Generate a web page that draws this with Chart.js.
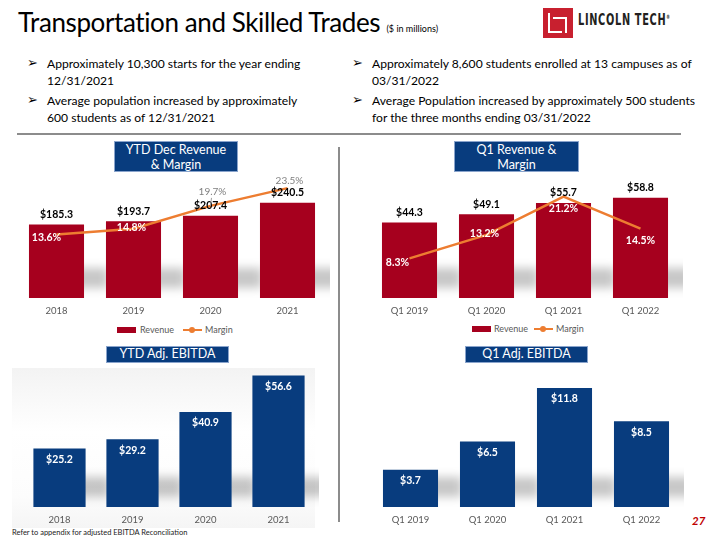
<!DOCTYPE html>
<html>
<head>
<meta charset="utf-8">
<script src="https://cdn.jsdelivr.net/npm/chart.js@4.4.1/dist/chart.umd.min.js"></script>
<style>
  html, body { margin: 0; padding: 0; background: #fff; }
  body { width: 720px; height: 540px; position: relative; overflow: hidden; font-family: Lato, "Open Sans", sans-serif; color: #000; }
  .abs { position: absolute; }
  .title { left: 18px; top: 6px; font-size: 26px; white-space: nowrap; letter-spacing: -0.4px; }
  .title small { font-size: 9px; letter-spacing: 0; }
  .bul { font-size: 12.1px; line-height: 17px; }
  .bul .ar { position: absolute; left: -20px; top: -1px; font-family: "DejaVu Sans"; font-size: 13px; }
  .rule { background: #8c8c8c; }
  .box { background: #083c7e; border: 1px solid #8aa4cc; color: #fff; text-align: center; font-size: 12.5px; line-height: 14.5px; box-sizing: border-box; }
  .leg { font-size: 9px; color: #595959; white-space: nowrap; }
  canvas { position: absolute; }
</style>
</head>
<body>

<div class="abs title">Transportation and Skilled Trades <small>($ in millions)</small></div>

<!-- logo -->
<div class="abs" style="left:543px;top:8px;width:30px;height:30px;background:#c8202f;"></div>
<div class="abs" style="left:548px;top:13px;width:2px;height:20px;background:#fff;"></div>
<div class="abs" style="left:548px;top:31px;width:14px;height:2px;background:#fff;"></div>
<div class="abs" style="left:553px;top:17px;width:14px;height:2px;background:#fff;"></div>
<div class="abs" style="left:565px;top:17px;width:2px;height:16px;background:#fff;"></div>
<div class="abs" style="left:578px;top:10px;font-family:'DejaVu Sans Condensed','DejaVu Sans';font-weight:bold;font-size:16px;color:#231f20;letter-spacing:1px;transform:scaleX(0.68);transform-origin:left top;white-space:nowrap;">LINCOLN TECH<sup style="font-size:6px;">®</sup></div>

<!-- bullets -->
<div class="abs bul" style="left:47px;top:55px;width:290px;"><span class="ar">➢</span>Approximately 10,300 starts for the year ending<br>12/31/2021</div>
<div class="abs bul" style="left:47px;top:92px;width:290px;"><span class="ar">➢</span>Average population increased by approximately<br>600 students as of 12/31/2021</div>
<div class="abs bul" style="left:372px;top:55px;width:340px;"><span class="ar">➢</span>Approximately 8,600 students enrolled at 13 campuses as of<br>03/31/2022</div>
<div class="abs bul" style="left:372px;top:92px;width:340px;"><span class="ar">➢</span>Average Population increased by approximately 500 students<br>for the three months ending 03/31/2022</div>

<div class="abs rule" style="left:17px;top:133px;width:664px;height:2px;"></div>
<div class="abs rule" style="left:338px;top:147px;width:2px;height:375px;"></div>

<!-- light backdrop behind the YTD EBITDA bars -->
<div class="abs" style="left:12px;top:368px;width:303px;height:160px;background:linear-gradient(180deg,#f3f3f3 0%,#ffffff 40%,#fcfcfc 80%,#f5f5f5 100%);"></div>

<!-- panel titles -->
<div class="abs box" style="left:114px;top:141px;width:124px;height:31px;padding-top:1px;">YTD Dec Revenue<br>&amp; Margin</div>
<div class="abs box" style="left:454px;top:141px;width:125px;height:31px;padding-top:1px;">Q1 Revenue &amp;<br>Margin</div>
<div class="abs box" style="left:106px;top:346px;width:123px;height:17px;">YTD Adj. EBITDA</div>
<div class="abs box" style="left:465px;top:346px;width:123px;height:17px;">Q1 Adj. EBITDA</div>

<canvas id="ytdRev" style="left:18px;top:168px;" width="312" height="150"></canvas>
<canvas id="q1Rev" style="left:371px;top:168px;" width="312" height="150"></canvas>
<canvas id="ytdEbitda" style="left:23px;top:367px;" width="296" height="160"></canvas>
<canvas id="q1Ebitda" style="left:372px;top:367px;" width="312" height="160"></canvas>

<!-- legends -->
<div class="abs" style="left:117px;top:327px;width:19px;height:6px;background:#a6001e;"></div>
<div class="abs leg" style="left:140px;top:324px;">Revenue</div>
<div class="abs" style="left:183px;top:329px;width:19px;height:2px;background:#ed7d31;"></div>
<div class="abs" style="left:189px;top:327px;width:6px;height:6px;border-radius:3px;background:#ed7d31;"></div>
<div class="abs leg" style="left:205px;top:324px;">Margin</div>

<div class="abs" style="left:472px;top:326px;width:19px;height:6px;background:#a6001e;"></div>
<div class="abs leg" style="left:494px;top:323px;">Revenue</div>
<div class="abs" style="left:534px;top:328px;width:19px;height:2px;background:#ed7d31;"></div>
<div class="abs" style="left:540px;top:326px;width:6px;height:6px;border-radius:3px;background:#ed7d31;"></div>
<div class="abs leg" style="left:556px;top:323px;">Margin</div>

<div class="abs" style="left:12px;top:528px;font-size:7.5px;color:#222;">Refer to appendix for adjusted EBITDA Reconciliation</div>
<div class="abs" style="left:692px;top:514px;font-size:11.5px;font-weight:bold;font-style:italic;color:#c00000;">27</div>

<script>
// YTD (December) data
const ytdYears = ['2018', '2019', '2020', '2021'];
const ytdRevenue = [185.3, 193.7, 207.4, 240.5];
const ytdMargin = [13.6, 14.8, 19.7, 23.5];
const ytdEbitda = [25.2, 29.2, 40.9, 56.6];

// Q1 data
const q1Quarters = ['Q1 2019', 'Q1 2020', 'Q1 2021', 'Q1 2022'];
const q1Revenue = [44.3, 49.1, 55.7, 58.8];
const q1Margin = [8.3, 13.2, 21.2, 14.5];
const q1Ebitda = [3.7, 6.5, 11.8, 8.5];

const RED = '#a6001e';
const BLUE = '#083c7e';
const ORANGE = '#ed7d31';
const FONT = 'Lato, "Open Sans", sans-serif';

// sombra gris difusa detras de cada barra (efecto de la diapositiva)
const barShadows = {
    id: 'barShadows',
    beforeDatasetsDraw(chart) {
        const ctx = chart.ctx;
        const base = chart.chartArea.bottom;
        ctx.save();
        ctx.filter = 'blur(5px)';
        ctx.fillStyle = 'rgba(0, 0, 0, 0.22)';
        chart.getDatasetMeta(0).data.forEach(el => {
            const right = el.x + el.width / 2;
            ctx.fillRect(right - 10, base - 30, 34, 20);
        });
        ctx.restore();
    }
};

// dibuja las etiquetas de valores (no hay plugin datalabels disponible)
const valueLabels = {
    id: 'valueLabels',
    afterDatasetsDraw(chart, args, opts) {
        const ctx = chart.ctx;
        ctx.save();
        ctx.textAlign = 'center';
        ctx.textBaseline = 'middle';
        (opts.sets || []).forEach(set => {
            const meta = chart.getDatasetMeta(set.index);
            const values = chart.data.datasets[set.index].data;
            meta.data.forEach((el, i) => {
                const off = set.offsets ? set.offsets[i] : [0, set.dy];
                const style = set.styles ? set.styles[i] : set.style;
                const x = el.x + off[0];
                const y = el.y + off[1];
                if (style.leader) {
                    ctx.strokeStyle = '#a0a0a0';
                    ctx.lineWidth = 1;
                    ctx.beginPath();
                    ctx.moveTo(el.x, el.y);
                    ctx.lineTo(el.x + (x - el.x) * 0.5, y + (off[1] < 0 ? 6 : -6));
                    ctx.stroke();
                }
                ctx.fillStyle = style.color;
                ctx.font = style.font;
                ctx.fillText(set.format(values[i]), x, y);
            });
        });
        ctx.restore();
    }
};

function xAxis() {
    return {
        grid: { display: false, drawTicks: false },
        border: { display: false },
        ticks: { color: '#595959', font: { family: FONT, size: 9.5 }, padding: 7 },
        afterFit: s => { s.height = 20; }
    };
}

const boldBlack = { color: '#000', font: 'bold 10.5px ' + FONT };
const boldWhite = { color: '#fff', font: 'bold 10.5px ' + FONT };
const grayPct = { color: '#7f7f7f', font: '10px ' + FONT, leader: true };
const grayPctPlain = { color: '#7f7f7f', font: '10px ' + FONT };

function revenueChart(id, labels, revenue, margin, revMax, pctMax, pctOffsets, pctStyles) {
    return new Chart(document.getElementById(id), {
        type: 'bar',
        data: {
            labels: labels,
            datasets: [
                {
                    label: 'Revenue',
                    data: revenue,
                    backgroundColor: RED,
                    barPercentage: 0.715,
                    categoryPercentage: 1,
                    yAxisID: 'y',
                    order: 1
                },
                {
                    type: 'line',
                    label: 'Margin',
                    data: margin,
                    borderColor: ORANGE,
                    borderWidth: 2.5,
                    pointRadius: 0,
                    tension: 0,
                    yAxisID: 'y2',
                    order: 0
                }
            ]
        },
        options: {
            responsive: false,
            animation: false,
            layout: { padding: { right: 4 } },
            plugins: {
                legend: { display: false },
                tooltip: { enabled: false },
                valueLabels: {
                    sets: [
                        { index: 0, dy: -10, style: boldBlack, format: v => '$' + v.toFixed(1) },
                        { index: 1, offsets: pctOffsets, styles: pctStyles, format: v => v.toFixed(1) + '%' }
                    ]
                }
            },
            scales: {
                x: xAxis(),
                y: { display: false, min: 0, max: revMax },
                y2: { display: false, min: 0, max: pctMax }
            }
        },
        plugins: [barShadows, valueLabels]
    });
}

function ebitdaChart(id, labels, values, max) {
    return new Chart(document.getElementById(id), {
        type: 'bar',
        data: {
            labels: labels,
            datasets: [{
                label: 'Adj. EBITDA',
                data: values,
                backgroundColor: BLUE,
                barPercentage: 0.715,
                categoryPercentage: 1
            }]
        },
        options: {
            responsive: false,
            animation: false,
            layout: { padding: { right: 4 } },
            plugins: {
                legend: { display: false },
                tooltip: { enabled: false },
                valueLabels: {
                    sets: [{ index: 0, dy: 11, style: boldWhite, format: v => '$' + v.toFixed(1) }]
                }
            },
            scales: {
                x: xAxis(),
                y: { display: false, min: 0, max: max }
            }
        },
        plugins: [barShadows, valueLabels]
    });
}

revenueChart('ytdRev', ytdYears, ytdRevenue, ytdMargin, 328, 27.8,
    [[-10, 3], [-2, -1], [2, -14], [2, -7]],
    [boldWhite, boldWhite, grayPct, grayPctPlain]);

revenueChart('q1Rev', q1Quarters, q1Revenue, q1Margin, 76.2, 27.2,
    [[-12, 4], [-2, -1], [0, 12], [0, 12]],
    [boldWhite, boldWhite, boldWhite, boldWhite]);

ebitdaChart('ytdEbitda', ytdYears, ytdEbitda, 60.3);
ebitdaChart('q1Ebitda', q1Quarters, q1Ebitda, 13.89);
</script>
</body>
</html>
